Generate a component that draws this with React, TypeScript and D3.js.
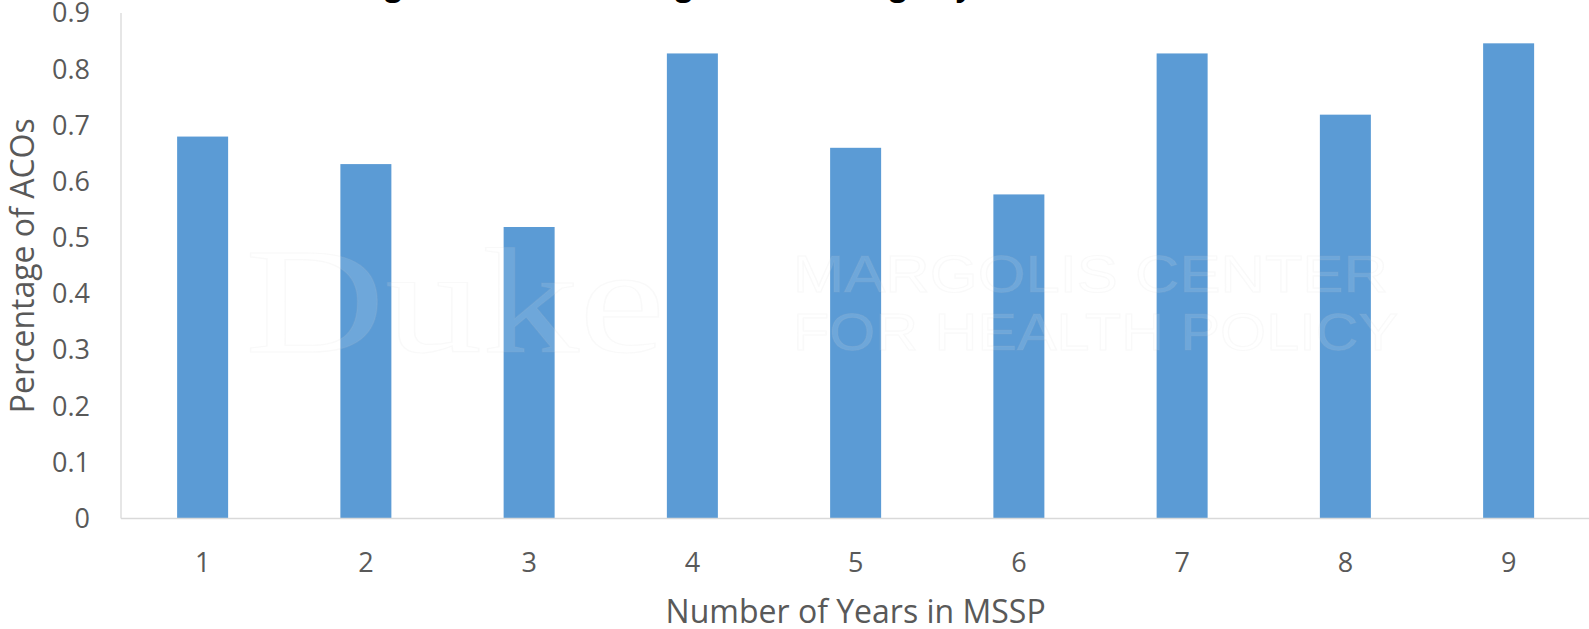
import React from "react";
import * as d3 from "d3";

// Share of ACOs achieving shared savings, by number of years in the MSSP
const years = ["1", "2", "3", "4", "5", "6", "7", "8", "9"];
const shareOfAcos = [0.68, 0.631, 0.519, 0.828, 0.66, 0.577, 0.828, 0.719, 0.846];
const yTicks = [0, 0.1, 0.2, 0.3, 0.4, 0.5, 0.6, 0.7, 0.8, 0.9];

const chartTitle = "Percentage of ACOs Achieving Shared Savings, by Years in MSSP";
const xTitle = "Number of Years in MSSP";
const yTitle = "Percentage of ACOs";

const W = 1589;
const H = 629;
const margin = { left: 121, right: -1.25, top: 13, bottom: 110.5 };
const FONT = "'Open Sans', 'Noto Sans', sans-serif";
const BAR = "#5b9bd5";
const AXIS = "#d9d9d9";
const TEXT = "#595959";

export default function App() {
  const x0 = margin.left;
  const x1 = W - margin.right;
  const yTop = margin.top;
  const yBase = H - margin.bottom;

  const gap = 1 - 51 / ((x1 - x0) / years.length);
  const x = d3
    .scaleBand<string>()
    .domain(years)
    .range([x0, x1])
    .paddingInner(gap)
    .paddingOuter(gap / 2);

  const y = d3.scaleLinear().domain([0, 0.9]).range([yBase, yTop]);

  const step = x.step();

  return (
    <svg
      width={W}
      height={H}
      style={{ position: "absolute", left: 0, top: 0, background: "#fff" }}
      fontFamily={FONT}
    >
      <rect x={0} y={0} width={W} height={H} fill="#fff" />

      {/* chart title, mostly above the visible area */}
      <text x={253} y={-4} fontSize={29.5} fontWeight={700} fill="#000">
        {chartTitle}
      </text>

      {/* y tick labels */}
      {yTicks.map((t) => (
        <text
          key={t}
          x={90}
          y={y(t)}
          dy="0.35em"
          textAnchor="end"
          fontSize={27}
          fill={TEXT}
        >
          {d3.format("")(t)}
        </text>
      ))}

      {/* bars */}
      {years.map((yr, i) => (
        <rect
          key={yr}
          x={x(yr)}
          y={y(shareOfAcos[i])}
          width={x.bandwidth()}
          height={yBase - y(shareOfAcos[i])}
          fill={BAR}
        />
      ))}

      {/* faint watermark */}
      <g
        fill="#ffffff"
        fillOpacity={0.12}
        stroke="#c8c8c8"
        strokeOpacity={0.1}
        strokeWidth={1.2}
        fontFamily="'Liberation Serif', serif"
      >
        <text x={245} y={352} fontSize={150} textLength={420} lengthAdjust="spacingAndGlyphs">
          Duke
        </text>
        <text
          x={793}
          y={292}
          fontSize={52}
          fontFamily="'Liberation Sans', sans-serif"
          textLength={595}
          lengthAdjust="spacingAndGlyphs"
        >
          MARGOLIS CENTER
        </text>
        <text
          x={793}
          y={350}
          fontSize={52}
          fontFamily="'Liberation Sans', sans-serif"
          textLength={605}
          lengthAdjust="spacingAndGlyphs"
        >
          FOR HEALTH POLICY
        </text>
      </g>

      {/* axes */}
      <line x1={x0} x2={x0} y1={yTop} y2={yBase} stroke={AXIS} strokeWidth={1.3} />
      <line x1={x0} x2={W} y1={yBase} y2={yBase} stroke={AXIS} strokeWidth={1.3} />

      {/* x tick labels */}
      {years.map((yr) => (
        <text
          key={yr}
          x={(x(yr) ?? 0) + x.bandwidth() / 2}
          y={yBase + 53}
          textAnchor="middle"
          fontSize={27}
          fill={TEXT}
        >
          {yr}
        </text>
      ))}

      {/* axis titles */}
      <text
        x={x0 + (step * years.length) / 2}
        y={622.5}
        textAnchor="middle"
        fontSize={32}
        fill={TEXT}
      >
        {xTitle}
      </text>
      <text
        transform={`translate(34, ${(yTop + yBase) / 2}) rotate(-90)`}
        textAnchor="middle"
        fontSize={32}
        fill={TEXT}
      >
        {yTitle}
      </text>
    </svg>
  );
}
